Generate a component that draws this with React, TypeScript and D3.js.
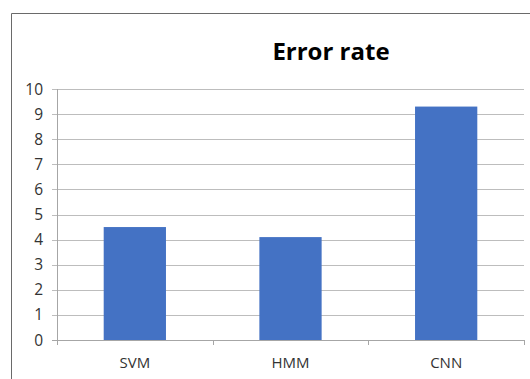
import React from "react";
import * as d3 from "d3";

const categories = ["SVM", "HMM", "CNN"];
const values = [4.5, 4.1, 9.3];
const yTicks = [0, 1, 2, 3, 4, 5, 6, 7, 8, 9, 10];
const title = "Error rate";

export default function App() {
  const W = 530, H = 379;
  const left = 57, right = 524, top = 89, bottom = 340;
  const x = d3.scaleBand<string>().domain(categories).range([left, right]).paddingInner(0.6).paddingOuter(0.3);
  const xb = d3.scaleBand<string>().domain(categories).range([left, right]);
  const y = d3.scaleLinear().domain([0, 10]).range([bottom, top]);
  const font = "'Open Sans', 'Liberation Sans', sans-serif";
  return (
    <svg width={W} height={H} style={{ position: "absolute", left: 0, top: 0 }}>
      <rect x={0} y={0} width={W} height={H} fill="#fff" />
      <line x1={11.5} y1={13.5} x2={W} y2={13.5} stroke="#6a6a6a" strokeWidth={1} />
      <line x1={11.5} y1={13.5} x2={11.5} y2={H} stroke="#6a6a6a" strokeWidth={1} />
      <text x={331} y={60} textAnchor="middle" fontFamily={font} fontWeight="bold" fontSize={24} fill="#000">{title}</text>
      {yTicks.map((t) => (
        <g key={t}>
          <line x1={left - 5} x2={right} y1={Math.round(y(t)) + 0.5} y2={Math.round(y(t)) + 0.5} stroke={t === 0 ? "#a6a6a6" : "#bdbdbd"} strokeWidth={1} />
          <text x={43} y={y(t)} dy="0.36em" textAnchor="end" fontFamily={font} fontSize={15.5} fill="#333">{t}</text>
        </g>
      ))}
      <line x1={left + 0.5} x2={left + 0.5} y1={top} y2={bottom + 5} stroke="#a6a6a6" />
      {categories.map((c) => (
        <line key={"t" + c} x1={Math.round((xb(c) as number) + xb.bandwidth()) + 0.5} x2={Math.round((xb(c) as number) + xb.bandwidth()) + 0.5} y1={bottom} y2={bottom + 5} stroke="#a6a6a6" />
      ))}
      {categories.map((c, i) => (
        <rect key={c} x={x(c)} y={y(values[i])} width={x.bandwidth()} height={bottom - y(values[i])} fill="#4472C4" />
      ))}
      {categories.map((c) => (
        <text key={"l" + c} x={(xb(c) as number) + xb.bandwidth() / 2} y={368} textAnchor="middle" fontFamily={font} fontSize={15} fill="#333">{c}</text>
      ))}
    </svg>
  );
}
